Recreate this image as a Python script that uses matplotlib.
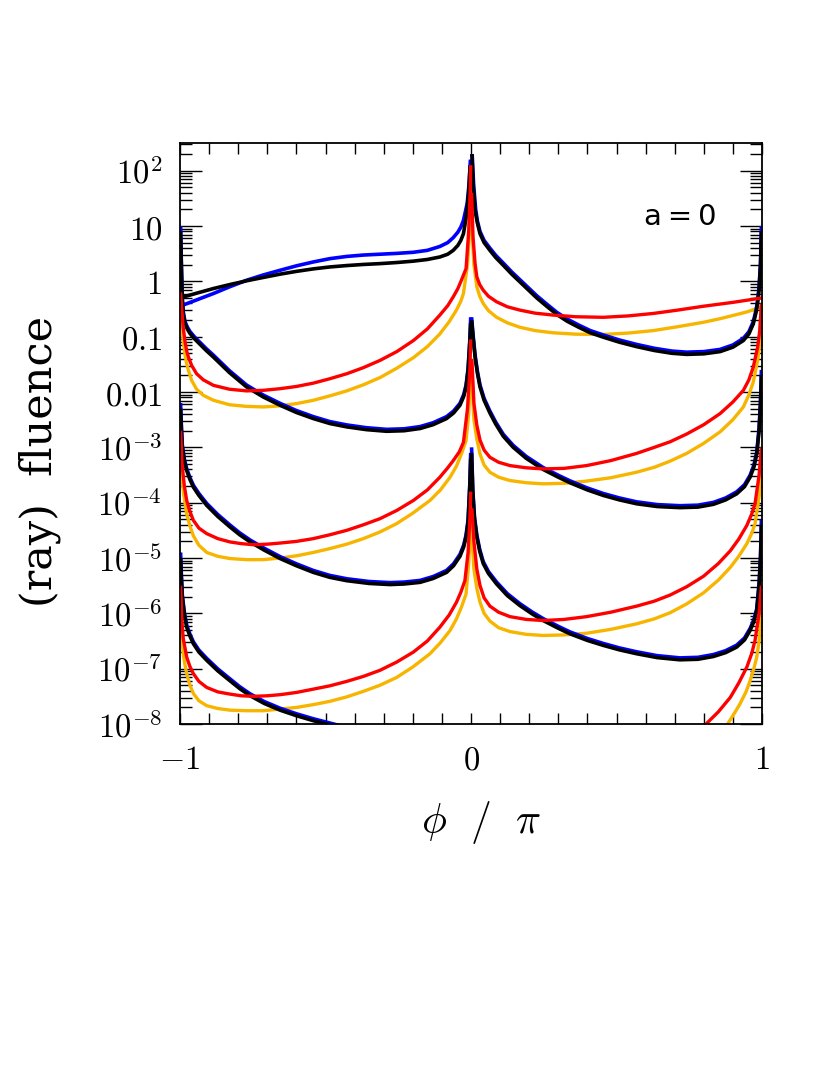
import numpy as np
import matplotlib
matplotlib.use("Agg")
import matplotlib.pyplot as plt
from matplotlib.ticker import FixedLocator, FixedFormatter, LogLocator, NullFormatter

plt.rcParams['mathtext.fontset'] = 'cm'

# ---------------- data (x = phi/pi, values given as log10 of fluence) -------------
# black curves, image orders 1..4 (L = left half, R = right half)
BLK_1L_X = [-1.0, -0.94, -0.885, -0.83, -0.771, -0.714, -0.656, -0.6, -0.542, -0.485, -0.427, -0.37, -0.313,
            -0.255, -0.198, -0.15, -0.107, -0.08, -0.061, -0.045, -0.035, -0.026, -0.017, -0.008, -0.003]
BLK_1L_Y = [-0.30, -0.21, -0.13, -0.06, 0.01, 0.07, 0.13, 0.18, 0.225, 0.26, 0.285, 0.305, 0.32,
            0.34, 0.365, 0.395, 0.44, 0.49, 0.56, 0.65, 0.74, 0.86, 1.14, 1.6, 2.1]
BLK_1R_X = [0.003, 0.008, 0.014, 0.022, 0.031, 0.045, 0.065, 0.085, 0.111, 0.14, 0.17, 0.2, 0.226, 0.26, 0.295,
            0.33, 0.37, 0.41, 0.455, 0.51, 0.569, 0.63, 0.69, 0.741, 0.8, 0.856, 0.9, 0.936, 0.955, 0.97, 0.98,
            0.985, 0.99, 0.995, 0.998]
BLK_1R_Y = [2.3, 1.7, 1.28, 1.05, 0.86, 0.70, 0.56, 0.43, 0.29, 0.13, -0.02, -0.17, -0.30, -0.45, -0.60,
            -0.72, -0.83, -0.93, -1.01, -1.10, -1.18, -1.25, -1.30, -1.32, -1.31, -1.27, -1.19, -1.07, -0.95, -0.77,
            -0.55, -0.38, -0.15, 0.3, 0.9]
BLK_2L_X = [-0.998, -0.995, -0.992, -0.989, -0.983, -0.975, -0.966, -0.95, -0.931, -0.91, -0.885, -0.83, -0.771,
            -0.714, -0.656, -0.6, -0.542, -0.485, -0.427, -0.36, -0.29, -0.23, -0.175, -0.13, -0.084, -0.06,
            -0.038, -0.025, -0.017, -0.01, -0.004, -0.001]
BLK_2L_Y = [0.9, 0.2, -0.35, -0.58, -0.76, -0.86, -0.94, -1.04, -1.14, -1.25, -1.37, -1.65, -1.91,
            -2.09, -2.24, -2.37, -2.48, -2.57, -2.63, -2.68, -2.71, -2.70, -2.66, -2.59, -2.48, -2.38,
            -2.24, -2.08, -1.91, -1.61, -1.1, -0.75]
BLK_2R_X = [0.002, 0.007, 0.014, 0.022, 0.031, 0.045, 0.065, 0.085, 0.111, 0.145, 0.19, 0.248, 0.3, 0.34, 0.4,
            0.455, 0.51, 0.569, 0.64, 0.718, 0.78, 0.833, 0.875, 0.913, 0.94, 0.959, 0.972, 0.982, 0.99, 0.995, 0.998]
BLK_2R_Y = [-0.7, -1.0, -1.37, -1.66, -1.91, -2.15, -2.38, -2.58, -2.80, -3.00, -3.20, -3.40, -3.54, -3.64, -3.77,
            -3.87, -3.95, -4.02, -4.07, -4.09, -4.08, -4.03, -3.95, -3.84, -3.71, -3.54, -3.36, -3.12, -2.7, -2.2, -1.7]
BLK_3L_X = [-0.998, -0.995, -0.992, -0.985, -0.977, -0.966, -0.954, -0.935, -0.908, -0.87, -0.828, -0.795, -0.759,
            -0.71, -0.656, -0.6, -0.542, -0.485, -0.427, -0.35, -0.278, -0.23, -0.175, -0.13, -0.084, -0.06,
            -0.038, -0.025, -0.017, -0.01, -0.004, -0.001]
BLK_3L_Y = [-2.3, -2.7, -3.0, -3.25, -3.42, -3.58, -3.72, -3.87, -4.05, -4.25, -4.44, -4.58, -4.71,
            -4.86, -5.01, -5.14, -5.26, -5.35, -5.41, -5.46, -5.48, -5.47, -5.44, -5.37, -5.26, -5.14,
            -4.97, -4.80, -4.62, -4.35, -3.7, -3.2]
BLK_3R_X = [0.002, 0.006, 0.012, 0.02, 0.03, 0.042, 0.06, 0.088, 0.125, 0.168, 0.21, 0.248, 0.3, 0.34, 0.4,
            0.455, 0.51, 0.569, 0.64, 0.718, 0.78, 0.833, 0.875, 0.913, 0.94, 0.959, 0.972, 0.982, 0.99, 0.995, 0.998]
BLK_3R_Y = [-3.1, -3.8, -4.3, -4.62, -4.88, -5.1, -5.28, -5.47, -5.68, -5.86, -6.01, -6.13, -6.27, -6.37, -6.49,
            -6.58, -6.66, -6.73, -6.80, -6.84, -6.83, -6.78, -6.71, -6.61, -6.48, -6.31, -6.15, -5.95, -5.5, -5.0, -4.4]
BLK_4L_X = [-0.998, -0.995, -0.992, -0.985, -0.977, -0.966, -0.954, -0.935, -0.908, -0.87, -0.828, -0.795, -0.759,
            -0.71, -0.656, -0.6, -0.542, -0.473]
BLK_4L_Y = [-5.0, -5.4, -5.71, -6.02, -6.25, -6.41, -6.55, -6.70, -6.85, -7.04, -7.22, -7.36, -7.49,
            -7.63, -7.75, -7.85, -7.94, -8.03]

# blue curves
BLU_1L_X = [-1.0, -0.94, -0.885, -0.83, -0.771, -0.714, -0.656, -0.6, -0.542, -0.485, -0.427, -0.37, -0.313,
            -0.255, -0.198, -0.15, -0.107, -0.08, -0.061, -0.045, -0.035, -0.026, -0.013, -0.006, -0.002]
BLU_1L_Y = [-0.45, -0.33, -0.22, -0.10, 0.02, 0.115, 0.20, 0.28, 0.35, 0.41, 0.45, 0.475, 0.49,
            0.505, 0.525, 0.56, 0.63, 0.70, 0.79, 0.89, 0.98, 1.10, 1.41, 1.8, 2.2]
BLU_1R_X = [0.004, 0.009, 0.016, 0.022, 0.031, 0.045, 0.065, 0.085, 0.111, 0.14, 0.17, 0.2, 0.226, 0.26, 0.295,
            0.33, 0.37, 0.41, 0.455, 0.51, 0.569, 0.63, 0.69, 0.741, 0.8, 0.856, 0.9, 0.936, 0.955, 0.97, 0.98,
            0.985, 0.99, 0.995, 0.998]
BLU_1R_Y = [2.3, 1.75, 1.3, 1.09, 0.90, 0.74, 0.60, 0.47, 0.33, 0.17, 0.02, -0.13, -0.26, -0.41, -0.56,
            -0.68, -0.79, -0.89, -0.97, -1.06, -1.14, -1.21, -1.26, -1.28, -1.27, -1.23, -1.15, -1.03, -0.91, -0.73,
            -0.51, -0.34, -0.1, 0.35, 1.0]
BLU_2L_X = BLK_2L_X
BLU_2L_Y = [1.0, 0.25, -0.31, -0.545, -0.725, -0.825, -0.905, -1.005, -1.105, -1.215, -1.335, -1.615, -1.875,
            -2.055, -2.205, -2.335, -2.445, -2.535, -2.595, -2.645, -2.675, -2.665, -2.625, -2.555, -2.445, -2.345,
            -2.205, -2.045, -1.875, -1.575, -1.05, -0.65]
BLU_2R_X = BLK_2R_X
BLU_2R_Y = [-0.65, -0.96, -1.33, -1.625, -1.875, -2.115, -2.345, -2.545, -2.765, -2.965, -3.165, -3.365, -3.505,
            -3.605, -3.735, -3.835, -3.915, -3.985, -4.035, -4.055, -4.045, -3.995, -3.915, -3.805, -3.675, -3.505,
            -3.325, -3.085, -2.65, -2.15, -1.6]
BLU_3L_X = BLK_3L_X
BLU_3L_Y = [-2.2, -2.65, -2.96, -3.215, -3.385, -3.545, -3.685, -3.835, -4.015, -4.215, -4.405, -4.545, -4.675,
            -4.825, -4.975, -5.105, -5.225, -5.315, -5.375, -5.425, -5.445, -5.435, -5.405, -5.335, -5.225, -5.105,
            -4.935, -4.765, -4.585, -4.31, -3.65, -3.1]
BLU_3R_X = BLK_3R_X
BLU_3R_Y = [-3.0, -3.75, -4.26, -4.585, -4.845, -5.065, -5.245, -5.435, -5.645, -5.825, -5.975, -6.095, -6.235,
            -6.335, -6.455, -6.545, -6.625, -6.695, -6.765, -6.805, -6.795, -6.745, -6.675, -6.575, -6.445, -6.275,
            -6.115, -5.915, -5.45, -4.95, -4.3]
BLU_4L_X = [-0.998, -0.995, -0.992, -0.985, -0.977, -0.966, -0.954, -0.935, -0.908, -0.87, -0.828, -0.795, -0.759,
            -0.71, -0.656, -0.6, -0.542, -0.45]
BLU_4L_Y = [-4.9, -5.35, -5.675, -5.985, -6.215, -6.375, -6.515, -6.665, -6.815, -7.005, -7.185, -7.325, -7.455,
            -7.595, -7.715, -7.815, -7.905, -8.03]

# red curves
RED_1L_X = [-0.998, -0.994, -0.989, -0.983, -0.977, -0.971, -0.96, -0.943, -0.92, -0.885, -0.83, -0.771, -0.714,
            -0.656, -0.6, -0.542, -0.485, -0.427, -0.37, -0.313, -0.255, -0.198, -0.15, -0.107, -0.08, -0.061,
            -0.045, -0.033, -0.017, -0.008, -0.003, -0.001]
RED_1L_Y = [-0.2, -0.5, -0.83, -1.08, -1.26, -1.37, -1.52, -1.67, -1.78, -1.88, -1.95, -1.98, -1.97,
            -1.94, -1.90, -1.84, -1.76, -1.67, -1.56, -1.43, -1.27, -1.07, -0.86, -0.61, -0.44, -0.28,
            -0.13, 0.02, 0.23, 0.9, 1.6, 2.1]
RED_1R_X = [0.002, 0.007, 0.014, 0.02, 0.03, 0.042, 0.06, 0.088, 0.125, 0.168, 0.22, 0.282, 0.36, 0.455, 0.54,
            0.627, 0.71, 0.799, 0.9, 1.0]
RED_1R_Y = [1.6, 0.8, 0.32, 0.08, -0.06, -0.16, -0.27, -0.37, -0.46, -0.52, -0.575, -0.61, -0.64, -0.65, -0.625,
            -0.58, -0.52, -0.45, -0.38, -0.30]
RED_2L_X = [-0.998, -0.993, -0.985, -0.977, -0.966, -0.954, -0.935, -0.908, -0.87, -0.828, -0.79, -0.748, -0.7,
            -0.656, -0.6, -0.542, -0.485, -0.427, -0.37, -0.313, -0.255, -0.198, -0.15, -0.107, -0.08, -0.061,
            -0.04, -0.026, -0.012, -0.004, -0.001]
RED_2L_Y = [-2.7, -3.3, -3.7, -3.96, -4.16, -4.32, -4.46, -4.56, -4.65, -4.71, -4.74, -4.76, -4.75,
            -4.73, -4.70, -4.65, -4.58, -4.50, -4.40, -4.29, -4.14, -3.96, -3.77, -3.54, -3.37, -3.24,
            -3.08, -2.91, -2.3, -1.6, -1.05]
RED_2R_X = [0.003, 0.01, 0.02, 0.031, 0.045, 0.065, 0.095, 0.134, 0.19, 0.248, 0.32, 0.397, 0.48, 0.569, 0.63,
            0.684, 0.741, 0.8, 0.856, 0.9, 0.936, 0.955, 0.97, 0.985, 0.992, 0.998]
RED_2R_Y = [-1.4, -2.2, -2.6, -2.87, -3.05, -3.18, -3.27, -3.33, -3.37, -3.39, -3.38, -3.33, -3.24, -3.11, -3.0,
            -2.9, -2.76, -2.59, -2.39, -2.18, -1.97, -1.78, -1.55, -1.19, -0.9, -0.4]
RED_3L_X = [-0.998, -0.994, -0.989, -0.977, -0.966, -0.954, -0.935, -0.908, -0.87, -0.828, -0.79, -0.748, -0.7,
            -0.656, -0.6, -0.542, -0.485, -0.427, -0.37, -0.313, -0.255, -0.198, -0.15, -0.107, -0.075, -0.05,
            -0.035, -0.021, -0.01, -0.004, -0.001]
RED_3L_Y = [-5.5, -6.1, -6.45, -6.79, -6.96, -7.09, -7.23, -7.34, -7.42, -7.46, -7.49, -7.50, -7.49,
            -7.47, -7.43, -7.37, -7.31, -7.23, -7.14, -7.03, -6.88, -6.70, -6.50, -6.25, -6.03, -5.80,
            -5.62, -5.41, -4.9, -4.3, -3.8]
RED_3R_X = [0.003, 0.01, 0.02, 0.031, 0.045, 0.065, 0.095, 0.134, 0.19, 0.248, 0.32, 0.397, 0.48, 0.569, 0.63,
            0.684, 0.741, 0.799, 0.85, 0.891, 0.92, 0.948, 0.965, 0.976, 0.99, 0.998]
RED_3R_Y = [-4.1, -4.7, -5.2, -5.5, -5.72, -5.87, -5.98, -6.06, -6.11, -6.13, -6.11, -6.06, -5.98, -5.87, -5.78,
            -5.67, -5.52, -5.33, -5.10, -4.87, -4.66, -4.41, -4.2, -4.02, -3.5, -3.0]
RED_4R_X = [0.79, 0.8, 0.85, 0.891, 0.92, 0.948, 0.965, 0.976, 0.99, 0.998]
RED_4R_Y = [-8.15, -8.04, -7.78, -7.52, -7.26, -6.97, -6.72, -6.49, -6.0, -5.5]

# orange curves
ORG_1L_X = [-0.998, -0.994, -0.989, -0.983, -0.977, -0.971, -0.96, -0.943, -0.92, -0.885, -0.83, -0.771, -0.714,
            -0.656, -0.6, -0.542, -0.485, -0.427, -0.37, -0.313, -0.255, -0.198, -0.15, -0.107, -0.075, -0.05,
            -0.035, -0.026, -0.012, -0.004, -0.001]
ORG_1L_Y = [-0.5, -0.8, -1.07, -1.32, -1.49, -1.61, -1.79, -1.95, -2.06, -2.15, -2.23, -2.26, -2.27,
            -2.25, -2.21, -2.15, -2.07, -1.98, -1.87, -1.74, -1.57, -1.38, -1.18, -0.95, -0.73, -0.52,
            -0.36, -0.22, 0.3, 1.0, 1.8]
ORG_1R_X = [0.003, 0.01, 0.02, 0.03, 0.042, 0.06, 0.088, 0.125, 0.168, 0.22, 0.282, 0.36, 0.455, 0.54, 0.627,
            0.71, 0.799, 0.86, 0.913, 0.95, 0.982, 1.0]
ORG_1R_Y = [1.0, 0.3, -0.10, -0.27, -0.40, -0.53, -0.65, -0.75, -0.83, -0.89, -0.93, -0.955, -0.96, -0.935, -0.89,
            -0.82, -0.74, -0.67, -0.60, -0.55, -0.49, -0.45]
ORG_2L_X = [-0.998, -0.994, -0.989, -0.983, -0.977, -0.966, -0.954, -0.935, -0.908, -0.87, -0.828, -0.77, -0.714,
            -0.656, -0.599, -0.542, -0.485, -0.427, -0.37, -0.313, -0.256, -0.2, -0.141, -0.105, -0.072, -0.05,
            -0.033, -0.017, -0.008, -0.003, -0.001]
ORG_2L_Y = [-3.1, -3.5, -3.78, -4.0, -4.2, -4.42, -4.6, -4.77, -4.90, -4.97, -5.01, -5.03, -5.03,
            -5.00, -4.96, -4.90, -4.83, -4.75, -4.65, -4.53, -4.38, -4.19, -3.96, -3.77, -3.54, -3.34,
            -3.12, -2.88, -2.4, -1.8, -1.4]
ORG_2R_X = [0.003, 0.01, 0.02, 0.031, 0.045, 0.065, 0.095, 0.134, 0.19, 0.248, 0.32, 0.397, 0.48, 0.569, 0.63,
            0.684, 0.741, 0.799, 0.856, 0.9, 0.936, 0.955, 0.97, 0.985, 0.992, 0.998]
ORG_2R_Y = [-1.8, -2.5, -2.85, -3.12, -3.32, -3.45, -3.54, -3.60, -3.64, -3.66, -3.65, -3.61, -3.55, -3.45, -3.36,
            -3.25, -3.11, -2.93, -2.72, -2.50, -2.27, -2.05, -1.82, -1.43, -1.15, -0.8]
ORG_3L_X = ORG_2L_X
ORG_3L_Y = [-5.9, -6.4, -6.73, -6.93, -7.09, -7.3, -7.45, -7.58, -7.67, -7.72, -7.75, -7.76, -7.76,
            -7.73, -7.70, -7.65, -7.59, -7.51, -7.41, -7.30, -7.16, -6.97, -6.73, -6.53, -6.31, -6.10,
            -5.89, -5.65, -5.1, -4.6, -4.2]
ORG_3R_X = [0.003, 0.01, 0.02, 0.031, 0.045, 0.065, 0.095, 0.134, 0.19, 0.248, 0.32, 0.397, 0.48, 0.569, 0.63,
            0.684, 0.741, 0.799, 0.85, 0.891, 0.92, 0.948, 0.965, 0.976, 0.99, 0.998]
ORG_3R_Y = [-4.6, -5.2, -5.55, -5.8, -6.0, -6.14, -6.26, -6.33, -6.38, -6.40, -6.39, -6.36, -6.29, -6.19, -6.10,
            -5.99, -5.83, -5.63, -5.40, -5.17, -4.97, -4.74, -4.55, -4.38, -3.9, -3.4]
ORG_4R_X = [0.87, 0.878, 0.9, 0.924, 0.945, 0.959, 0.972, 0.982, 0.99, 0.998]
ORG_4R_Y = [-8.15, -8.03, -7.85, -7.64, -7.42, -7.22, -7.0, -6.79, -6.5, -6.0]

# ticks / labels
X_TICKS = [-1, 0, 1]
X_TICK_LABELS = [r'$-1$', r'$0$', r'$1$']
Y_TICKS = [1e-8, 1e-7, 1e-6, 1e-5, 1e-4, 1e-3, 1e-2, 1e-1, 1, 10, 100]
Y_TICK_LABELS = [r'$10^{-8}$', r'$10^{-7}$', r'$10^{-6}$', r'$10^{-5}$', r'$10^{-4}$',
                 r'$10^{-3}$', r'$0.01$', r'$0.1$', r'$1$', r'$10$', r'$10^{2}$']

# ---------------- plotting ----------------
fig = plt.figure(figsize=(8.3, 10.75), dpi=100)
ax = fig.add_axes([180 / 830, 1 - 724 / 1075, 582 / 830, 581 / 1075])
ax.set_yscale('log')

C_BLUE = '#0000ff'
C_BLACK = '#000000'
C_RED = '#ff0000'
C_ORANGE = '#f7b500'

groups = [
    (C_ORANGE, 2.4, [(ORG_1L_X, ORG_1L_Y), (ORG_1R_X, ORG_1R_Y), (ORG_2L_X, ORG_2L_Y), (ORG_2R_X, ORG_2R_Y),
                     (ORG_3L_X, ORG_3L_Y), (ORG_3R_X, ORG_3R_Y), (ORG_4R_X, ORG_4R_Y)]),
    (C_BLUE, 2.6, [(BLU_1L_X, BLU_1L_Y), (BLU_1R_X, BLU_1R_Y), (BLU_2L_X, BLU_2L_Y), (BLU_2R_X, BLU_2R_Y),
                   (BLU_3L_X, BLU_3L_Y), (BLU_3R_X, BLU_3R_Y), (BLU_4L_X, BLU_4L_Y)]),
    (C_BLACK, 2.6, [(BLK_1L_X, BLK_1L_Y), (BLK_1R_X, BLK_1R_Y), (BLK_2L_X, BLK_2L_Y), (BLK_2R_X, BLK_2R_Y),
                    (BLK_3L_X, BLK_3L_Y), (BLK_3R_X, BLK_3R_Y), (BLK_4L_X, BLK_4L_Y)]),
    (C_RED, 2.4, [(RED_1L_X, RED_1L_Y), (RED_1R_X, RED_1R_Y), (RED_2L_X, RED_2L_Y), (RED_2R_X, RED_2R_Y),
                  (RED_3L_X, RED_3L_Y), (RED_3R_X, RED_3R_Y), (RED_4R_X, RED_4R_Y)]),
]
for color, lw, segs in groups:
    for xs, ls in segs:
        ax.plot(xs, 10.0 ** np.asarray(ls), color=color, lw=lw, solid_capstyle='butt',
                solid_joinstyle='round')

ax.set_xlim(-1, 1)
ax.set_ylim(1e-8, 10 ** 2.5)

for sp in ax.spines.values():
    sp.set_linewidth(1.3)

ax.xaxis.set_major_locator(FixedLocator(X_TICKS))
ax.xaxis.set_major_formatter(FixedFormatter(X_TICK_LABELS))
ax.xaxis.set_minor_locator(FixedLocator(np.round(np.arange(-1, 1.0001, 0.1), 2)))
ax.yaxis.set_major_locator(FixedLocator(Y_TICKS))
ax.yaxis.set_major_formatter(FixedFormatter(Y_TICK_LABELS))
ax.yaxis.set_minor_locator(LogLocator(base=10, subs=np.arange(2, 10), numticks=30))
ax.yaxis.set_minor_formatter(NullFormatter())

ax.tick_params(axis='both', which='both', direction='in', top=True, right=True, width=1.0)
ax.tick_params(axis='x', which='both', length=7.9, pad=14, labelsize=23.5)
ax.tick_params(axis='y', which='major', length=15.6, pad=13, labelsize=23.5)
ax.tick_params(axis='y', which='minor', length=8.4)

ax.text(0.859, 0.873, 'a\u2009=\u20090', transform=ax.transAxes, ha='center', va='center',
        fontsize=21, family='DejaVu Sans')

fig.text(40 / 830, 1 - 461 / 1075, '(ray)  fluence', rotation=90, ha='center', va='center',
         fontsize=31, family='DejaVu Serif')
fig.text(481 / 830, 1 - 823 / 1075, r'$\phi\ \ /\ \ \pi$', ha='center', va='center', fontsize=30)

fig.savefig('out.png', dpi=100)
